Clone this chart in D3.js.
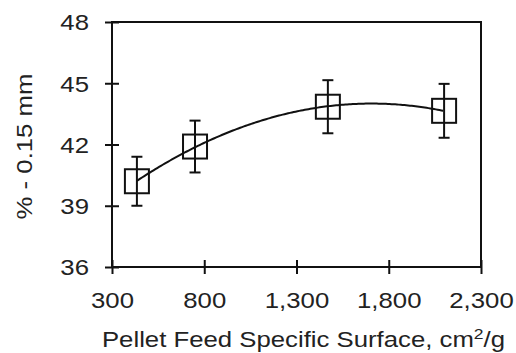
<!DOCTYPE html>
<html>
<head>
<meta charset="utf-8">
<script src="https://cdn.jsdelivr.net/npm/d3@7"></script>
<style>
  body { margin: 0; background: #fff; }
  svg text { font-family: "Liberation Sans", Arial, sans-serif; fill: #222; }
</style>
</head>
<body>
<div id="chart"></div>
<script>
// data
var surface = [435, 750, 1470, 2100];
var fines = [40.2, 41.9, 43.85, 43.65];
var errs = [1.2, 1.27, 1.3, 1.32];
var xTicks = [300, 800, 1300, 1800, 2300];
var yTicks = [36, 39, 42, 45, 48];

var width = 516, height = 353;
var margin = {left: 112, right: 35, top: 22, bottom: 86};
var stretch = 1.17; // text in the picture is a bit wider than plain Arial

var svg = d3.select('#chart').append('svg')
  .attr('width', width)
  .attr('height', height);

var x = d3.scaleLinear().domain([300, 2300]).range([margin.left, width - margin.right]);
var y = d3.scaleLinear().domain([36, 48]).range([height - margin.bottom, margin.top]);

// frame
svg.append('rect')
  .attr('x', x(300)).attr('y', y(48))
  .attr('width', x(2300) - x(300)).attr('height', y(36) - y(48))
  .attr('fill', 'none').attr('stroke', '#111').attr('stroke-width', 2);

var yAxis = svg.append('g')
  .attr('transform', 'translate(' + x(300) + ',0)')
  .call(d3.axisLeft(y).tickValues(yTicks).tickSize(7).tickPadding(16));
yAxis.select('.domain').remove();
yAxis.selectAll('.tick line').attr('x1', 7).attr('stroke', '#111').attr('stroke-width', 2);
yAxis.selectAll('.tick text')
  .attr('font-size', 22).attr('dy', '0.36em')
  .attr('x', -23 / stretch)
  .attr('transform', 'scale(' + stretch + ',1)');

var xAxis = svg.append('g')
  .attr('transform', 'translate(0,' + y(36) + ')')
  .call(d3.axisBottom(x).tickValues(xTicks).tickSize(7).tickPadding(18).tickFormat(d3.format(',')));
xAxis.select('.domain').remove();
xAxis.selectAll('.tick line').attr('y1', -7).attr('stroke', '#111').attr('stroke-width', 2);
xAxis.selectAll('.tick text')
  .attr('font-size', 22)
  .attr('transform', 'scale(' + stretch + ',1)');

// 2nd order polynomial trendline fitted to the points
function polyFit(xs, ys) {
  var n = xs.length, S = [0, 0, 0, 0, 0], T = [0, 0, 0];
  for (var i = 0; i < n; i++) {
    for (var k = 0; k < 5; k++) S[k] += Math.pow(xs[i], k);
    for (var k = 0; k < 3; k++) T[k] += ys[i] * Math.pow(xs[i], k);
  }
  var A = [[S[0], S[1], S[2], T[0]], [S[1], S[2], S[3], T[1]], [S[2], S[3], S[4], T[2]]];
  for (var c = 0; c < 3; c++) {
    for (var r = c + 1; r < 3; r++) {
      var f = A[r][c] / A[c][c];
      for (var j = c; j < 4; j++) A[r][j] -= f * A[c][j];
    }
  }
  var b = [0, 0, 0];
  for (var r = 2; r >= 0; r--) {
    var s = A[r][3];
    for (var j = r + 1; j < 3; j++) s -= A[r][j] * b[j];
    b[r] = s / A[r][r];
  }
  return function(v) { return b[0] + b[1] * v + b[2] * v * v; };
}
var fit = polyFit(surface, fines);
var trend = d3.range(surface[0], surface[3] + 1, 10);
svg.append('path')
  .datum(trend)
  .attr('fill', 'none').attr('stroke', '#111').attr('stroke-width', 2)
  .attr('d', d3.line().x(function(d) { return x(d); }).y(function(d) { return y(fit(d)); }));

var pts = surface.map(function(s, i) { return {x: s, y: fines[i], e: errs[i]}; });
var g = svg.append('g').selectAll('g').data(pts).enter().append('g');

g.append('line')
  .attr('x1', function(d) { return x(d.x); }).attr('x2', function(d) { return x(d.x); })
  .attr('y1', function(d) { return y(d.y + d.e); }).attr('y2', function(d) { return y(d.y - d.e); })
  .attr('stroke', '#111').attr('stroke-width', 2);
[1, -1].forEach(function(sg) {
  g.append('line')
    .attr('x1', function(d) { return x(d.x) - 5.5; }).attr('x2', function(d) { return x(d.x) + 5.5; })
    .attr('y1', function(d) { return y(d.y + sg * d.e); }).attr('y2', function(d) { return y(d.y + sg * d.e); })
    .attr('stroke', '#111').attr('stroke-width', 2);
});
g.append('rect')
  .attr('x', function(d) { return x(d.x) - 12; }).attr('y', function(d) { return y(d.y) - 12; })
  .attr('width', 24).attr('height', 24)
  .attr('fill', 'none').attr('stroke', '#111').attr('stroke-width', 2);

// axis titles
var xt = svg.append('text')
  .attr('transform', 'translate(' + ((x(300) + x(2300)) / 2 + 7) + ',347) scale(' + stretch + ',1)')
  .attr('text-anchor', 'middle').attr('font-size', 22);
xt.append('tspan').text('Pellet Feed Specific Surface, cm');
xt.append('tspan').attr('font-size', 15).attr('dy', -8).text('2');
xt.append('tspan').attr('dy', 8).text('/g');

svg.append('text')
  .attr('transform', 'translate(32,' + ((y(36) + y(48)) / 2 + 2) + ') rotate(-90) scale(' + stretch + ',1)')
  .attr('text-anchor', 'middle').attr('font-size', 22)
  .text('% - 0.15 mm');
</script>
</body>
</html>
